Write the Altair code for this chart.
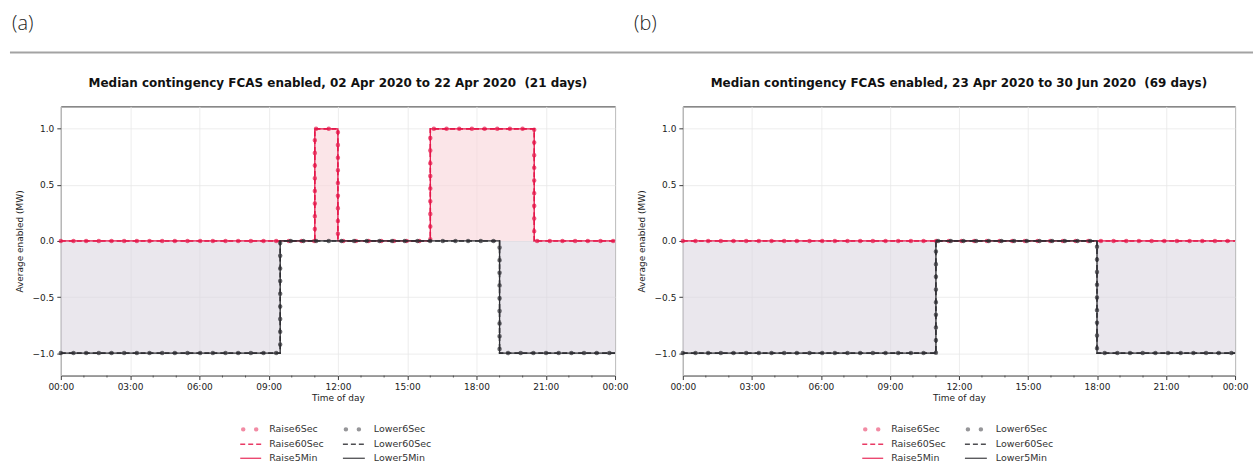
import altair as alt
import pandas as pd

# ---------------- data ----------------
x_ticks = [0, 3, 6, 9, 12, 15, 18, 21, 24]
x_minor = [h for h in range(25) if h % 3 != 0]
y_ticks = [-1.0, -0.5, 0.0, 0.5, 1.0]

raise_names = ["Raise6Sec", "Raise60Sec", "Raise5Min"]
lower_names = ["Lower6Sec", "Lower60Sec", "Lower5Min"]
styles = ["dot", "dash", "solid"]

panel_labels = ["(a)", "(b)"]
titles = [
    "Median contingency FCAS enabled, 02 Apr 2020 to 22 Apr 2020 \u00a0(21 days)",
    "Median contingency FCAS enabled, 23 Apr 2020 to 30 Jun 2020 \u00a0(69 days)",
]

# step breakpoints (hour of day) and values
a_raise_t = [0, 11, 12, 16, 20.5, 24]
a_raise_v = [0, 1, 0, 1, 0, 0]
a_lower_t = [0, 9.5, 19, 24]
a_lower_v = [-1, 0, -1, -1]
b_raise_t = [0, 24]
b_raise_v = [0, 0]
b_lower_t = [0, 11, 18, 24]
b_lower_v = [-1, 0, -1, -1]

RED = "#e5174a"
DARK = "#2e2e33"
RED_FILL = "#f8d3d9"
GRAY_FILL = "#d9d4df"

W_A, W_B, H = 556, 554, 270


def make_df(raise_t, raise_v, lower_t, lower_v):
    rows = []
    for names, ts, vs, grp in [(raise_names, raise_t, raise_v, "Raise"),
                               (lower_names, lower_t, lower_v, "Lower")]:
        for name, st in zip(names, styles):
            for t, v in zip(ts, vs):
                rows.append({"hour": t, "value": v, "zero": 0, "series": name,
                             "group": grp, "style": st})
    return pd.DataFrame(rows)


xlab = "(datum.value % 24 < 10 ? '0' : '') + (datum.value % 24) + ':00'"
ylab = "replace(format(datum.value, '.1f'), '-', '\u2212')"


def panel(df, label, title, width, draw_rule):
    xs = alt.Scale(domain=[0, 24], nice=False, zero=False)
    ys = alt.Scale(domain=[-1.2, 1.2], nice=False, zero=False)
    x = alt.X("hour:Q", scale=xs,
              axis=alt.Axis(values=x_ticks, labelExpr=xlab, title="Time of day"))
    y = alt.Y("value:Q", scale=ys,
              axis=alt.Axis(values=y_ticks, labelExpr=ylab,
                            title="Average enabled (MW)"))

    first = df[df["style"] == "solid"]
    area_r = alt.Chart(first[first["group"] == "Raise"]).mark_area(
        interpolate="step-after", color=RED_FILL, opacity=0.6
    ).encode(x=x, y=y, y2="zero:Q")
    area_l = alt.Chart(first[first["group"] == "Lower"]).mark_area(
        interpolate="step-after", color=GRAY_FILL, opacity=0.55
    ).encode(x=x, y=y, y2="zero:Q")

    layers = [area_r, area_l]
    for grp in ["Raise", "Lower"]:
        sub = df[df["group"] == grp]
        col = RED if grp == "Raise" else DARK
        layers.append(alt.Chart(sub[sub["style"] == "dot"]).mark_line(
            interpolate="step-after", color=col, strokeWidth=4.5,
            strokeDash=[0.01, 12.7], strokeCap="round", opacity=0.7
        ).encode(x=x, y=y, detail="series:N"))
        layers.append(alt.Chart(sub[sub["style"] == "dash"]).mark_line(
            interpolate="step-after", color=col, strokeWidth=1.6,
            strokeDash=[5, 3]
        ).encode(x=x, y=y, detail="series:N"))
        layers.append(alt.Chart(sub[sub["style"] == "solid"]).mark_line(
            interpolate="step-after", color=col, strokeWidth=1.3
        ).encode(x=x, y=y, detail="series:N"))

    # minor ticks on the time axis
    layers.append(alt.Chart(pd.DataFrame({"hour": x_minor})).mark_rule(
        color="#3a3a3a", strokeWidth=0.8
    ).encode(x=alt.X("hour:Q", scale=xs), y=alt.value(H), y2=alt.value(H + 2)))

    one = alt.Chart(pd.DataFrame({"k": [0]}))
    # panel title
    layers.append(one.mark_text(
        text=title, align="center", baseline="middle", fontSize=12,
        font="DejaVu Sans", fontWeight="bold", color="#111"
    ).encode(x=alt.value(width / 2), y=alt.value(-23)))
    # panel letter
    layers.append(one.mark_text(
        text=label, align="left", baseline="top", fontSize=20,
        font="Open Sans", fontWeight=300, color="#222"
    ).encode(x=alt.value(-49), y=alt.value(-93)))
    if draw_rule:
        layers.append(one.mark_rule(color="#a3a3a3", strokeWidth=2).encode(
            x=alt.value(-51), x2=alt.value(1196), y=alt.value(-54)))

    # legend (drawn manually, two columns)
    col_x = [(180, 201, 209), (283, 305, 314)]
    row_y = [324, 339, 353]
    for ci, (names, col) in enumerate([(raise_names, RED), (lower_names, DARK)]):
        x0, x1, xt = col_x[ci]
        for ri, (name, st) in enumerate(zip(names, styles)):
            yy = row_y[ri]
            if st == "dot":
                m = one.mark_rule(color=col, strokeWidth=4.5, strokeDash=[0.01, 13],
                                  strokeCap="round", opacity=0.5)
                enc = dict(x=alt.value(x0 + 3), x2=alt.value(x1), y=alt.value(yy))
            elif st == "dash":
                m = one.mark_rule(color=col, strokeWidth=1.6, strokeDash=[5, 3], opacity=0.85)
                enc = dict(x=alt.value(x0), x2=alt.value(x1), y=alt.value(yy))
            else:
                m = one.mark_rule(color=col, strokeWidth=1.3, opacity=0.85)
                enc = dict(x=alt.value(x0), x2=alt.value(x1), y=alt.value(yy))
            layers.append(m.encode(**enc))
            layers.append(one.mark_text(
                text=name, align="left", baseline="middle", fontSize=9.5,
                font="DejaVu Sans", color="#333"
            ).encode(x=alt.value(xt), y=alt.value(yy)))

    return alt.layer(*layers).properties(width=width, height=H)


pa = panel(make_df(a_raise_t, a_raise_v, a_lower_t, a_lower_v),
           panel_labels[0], titles[0], W_A, True)
pb = panel(make_df(b_raise_t, b_raise_v, b_lower_t, b_lower_v),
           panel_labels[1], titles[1], W_B, False)

chart = alt.hconcat(pa, pb, spacing=68, bounds="flush").properties(
    padding={"left": 8, "top": 12, "right": 0, "bottom": 0},
    background="white",
).configure_view(
    stroke="#3a3a3a", strokeWidth=1
).configure_axis(
    domain=False, tickColor="#3a3a3a", tickSize=4, tickWidth=1,
    labelFont="DejaVu Sans", labelFontSize=9, labelColor="#222",
    titleFont="DejaVu Sans", titleFontSize=9, titleColor="#222",
    titleFontWeight="normal", gridColor="#e8e8e8", gridWidth=0.8,
    labelPadding=3,
).configure_axisX(titlePadding=2, labelFlush=False).configure_axisY(titlePadding=8)

chart.save("out.html", embed_options={"renderer": "svg", "actions": False})
